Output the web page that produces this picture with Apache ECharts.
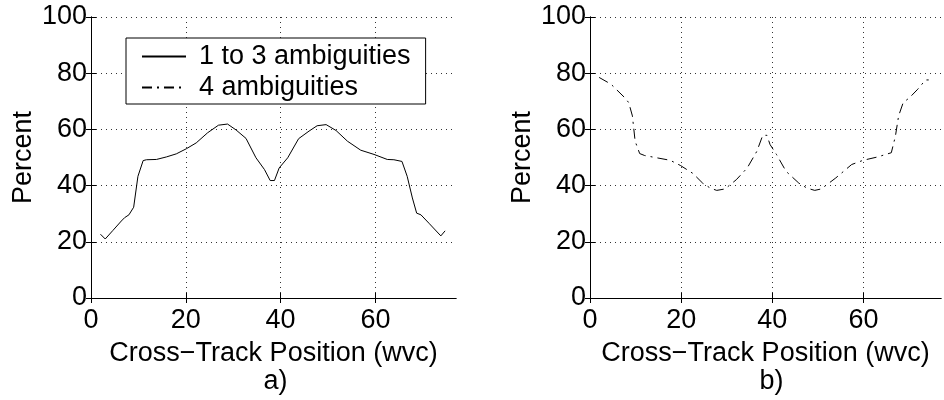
<!DOCTYPE html>
<html>
<head>
<meta charset="utf-8">
<script src="https://cdn.jsdelivr.net/npm/echarts@6/dist/echarts.min.js"></script>
<style>
html, body { margin: 0; padding: 0; background: #fff; }
#chart { width: 944px; height: 400px; }
</style>
</head>
<body>
<div id="chart"></div>
<script>
// panel a) 1 to 3 ambiguities
const posA = [2, 3, 4.6, 6.4, 7.1, 8, 9, 9.9, 11, 11.7, 13.8, 15.9, 18, 20.1, 22.2, 24.6, 26.9, 28.8, 30.6, 32.7,
  34.8, 36.6, 37.8, 38.7, 39.7, 41.5, 43.8, 46, 47.7, 49.6, 51.7, 54.1, 56.9, 59.7, 62.5, 63.9, 65.6, 66.7,
  67.8, 68.7, 69.6, 71.3, 73.8, 74.7];
const pctA = [22.7, 21, 24, 27.4, 28.6, 29.6, 32.3, 43.3, 48.9, 49.2, 49.3, 50.2, 51.3, 53.1, 55.2, 58.8, 61.5, 61.9, 59.8, 56.8,
  49.9, 45.7, 41.8, 41.8, 46.3, 49.9, 56.7, 59.4, 61.3, 61.7, 59.6, 55.8, 52.6, 51.1, 49.3, 49.2, 48.6, 43.3,
  35.6, 30.2, 29.6, 26.6, 22.1, 23.9];
// panel b) 4 ambiguities
const posB = [2, 4.6, 7.8, 8.5, 9.3, 9.9, 10.9, 12, 17.6, 19.9, 22.6, 24.7, 26.4, 27.8, 29.6, 32.1, 34.5, 36.6, 37.9, 38.8,
  39.5, 40.9, 43, 45.8, 47.6, 49.3, 50.7, 53.9, 57.4, 59.9, 63.1, 66.1, 67, 67.7, 68.7, 70.1, 71.9, 73.6, 74.3];
const pctB = [78.5, 76.1, 71, 69.5, 64.8, 55.8, 51.4, 50.7, 49, 47.1, 44.3, 40.9, 39.1, 38.3, 38.8, 42.1, 46.3, 52.2, 57.9, 57.9,
  54.6, 51.1, 45.1, 40.9, 39.1, 38.3, 38.8, 42.7, 47.5, 49, 50.2, 51.7, 57.6, 64.8, 69.5, 71.3, 74.3, 77.6, 77.6];

const xTicks = [0, 20, 40, 60];
const seriesNames = ["1 to 3 ambiguities", "4 ambiguities"];
const xName = "Cross\u2212Track Position (wvc)";
const yName = "Percent";
const panelLabels = ["a)", "b)"];

const font = "Liberation Sans";
const fs = 27;
const grids = [
  { left: 91, top: 17, width: 365, height: 281 },
  { left: 590, top: 17, width: 365, height: 281 }
];

const dotted = { color: "#333", width: 1, type: [1, 4] };
const tick = { show: true, inside: true, length: 5, lineStyle: { color: "#000" } };
const xTick = Object.assign({ customValues: xTicks }, tick);

const xAxis = [];
const yAxis = [];
grids.forEach((g, i) => {
  xAxis.push({
    gridIndex: i, type: "value", min: 0, max: 77, interval: 20, position: "bottom",
    name: xName, nameLocation: "middle", nameGap: 42,
    nameTextStyle: { fontFamily: font, fontSize: fs, color: "#000" },
    axisLine: { show: true, lineStyle: { color: "#000" } },
    axisTick: xTick,
    axisLabel: {
      margin: 9, fontFamily: font, fontSize: fs, color: "#000",
      formatter: v => (xTicks.indexOf(v) >= 0 ? String(v) : "")
    },
    splitLine: { show: true, lineStyle: dotted }
  });
  xAxis.push({
    gridIndex: i, type: "value", min: 0, max: 77, interval: 20, position: "top",
    axisLine: { show: true, lineStyle: { color: "#000" } },
    axisTick: xTick, axisLabel: { show: false }, splitLine: { show: false }
  });
  yAxis.push({
    gridIndex: i, type: "value", min: 0, max: 100, interval: 20, position: "left",
    name: yName, nameLocation: "middle", nameGap: 54, nameRotate: 90,
    nameTextStyle: { fontFamily: font, fontSize: fs, color: "#000" },
    axisLine: { show: true, lineStyle: { color: "#000" } },
    axisTick: tick,
    axisLabel: { margin: 4, fontFamily: font, fontSize: fs, color: "#000" },
    splitLine: { show: true, lineStyle: dotted }
  });
  yAxis.push({
    gridIndex: i, type: "value", min: 0, max: 100, interval: 20, position: "right",
    axisLine: { show: true, lineStyle: { color: "#000" } },
    axisTick: tick, axisLabel: { show: false }, splitLine: { show: false }
  });
});

const option = {
  animation: false,
  backgroundColor: "#fff",
  grid: grids,
  title: panelLabels.map((t, i) => ({
    text: t,
    left: grids[i].left + grids[i].width / 2 - (i === 1 ? 6 : 3),
    top: 363,
    textAlign: "center",
    textStyle: { fontFamily: font, fontSize: fs, fontWeight: "normal", color: "#000" }
  })),
  legend: {
    orient: "vertical",
    left: 126, top: 38,
    backgroundColor: "#fff",
    borderColor: "#000", borderWidth: 1,
    padding: [5, 15, 3, 15],
    itemWidth: 44, itemHeight: 27, itemGap: 4,
    itemStyle: { color: "rgba(0,0,0,0)", borderWidth: 0, opacity: 0 },
    textStyle: { fontFamily: font, fontSize: fs, color: "#000", padding: [0, 0, 0, 8] },
    data: seriesNames
  },
  xAxis,
  yAxis,
  series: [
    {
      name: seriesNames[0], type: "line", xAxisIndex: 0, yAxisIndex: 0,
      symbol: "none", lineStyle: { color: "#000", width: 1 }, itemStyle: { color: "#000" },
      data: posA.map((x, k) => [x, pctA[k]])
    },
    {
      name: seriesNames[1], type: "line", xAxisIndex: 2, yAxisIndex: 2,
      symbol: "none", lineStyle: { color: "#000", width: 1, type: [10, 5, 2, 5] }, itemStyle: { color: "#000" },
      data: posB.map((x, k) => [x, pctB[k]])
    }
  ]
};

const chart = echarts.init(document.getElementById("chart"));
chart.setOption(option);
</script>
</body>
</html>
